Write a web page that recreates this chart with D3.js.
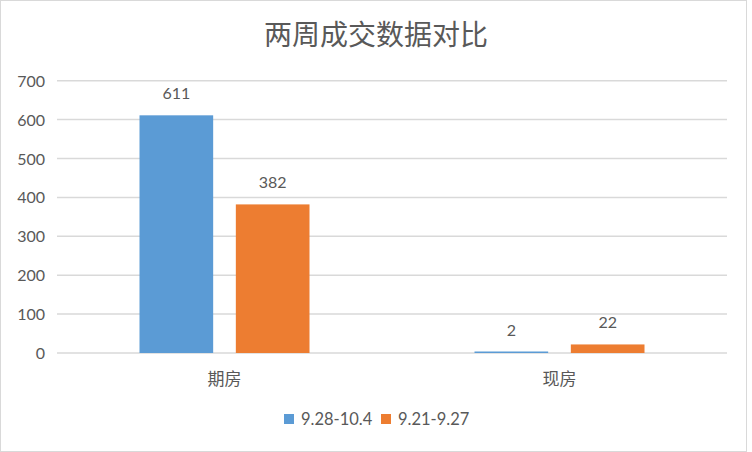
<!DOCTYPE html>
<html>
<head>
<meta charset="utf-8">
<script src="https://cdn.jsdelivr.net/npm/d3@7"></script>
<style>
  body { margin: 0; background: #fff; }
  text { font-family: "Lato", "Noto Sans CJK SC", sans-serif; fill: #595959; }
</style>
</head>
<body>
<script>
var categories = ["期房", "现房"];
var seriesNames = ["9.28-10.4", "9.21-9.27"];
var seriesColors = ["#5B9BD5", "#ED7D31"];
var recent = [611, 2];
var previous = [382, 22];
var yTicks = [0, 100, 200, 300, 400, 500, 600, 700];

var w = 752, h = 452;
var plotLeft = 57, plotRight = 727, plotTop = 80.7, plotBottom = 353;

var svg = d3.select("body").append("svg")
  .attr("width", w)
  .attr("height", h);

// chart border
svg.append("rect")
  .attr("x", 0.5).attr("y", 0.5)
  .attr("width", w - 6).attr("height", h - 1)
  .attr("fill", "#fff")
  .attr("stroke", "#d9d9d9");

svg.append("text")
  .attr("x", 376).attr("y", 45)
  .attr("text-anchor", "middle")
  .style("font-size", "28px")
  .text("两周成交数据对比");

var xScale = d3.scaleBand()
  .domain(categories)
  .range([plotLeft, plotRight]);

var xInner = d3.scaleBand()
  .domain(d3.range(seriesNames.length))
  .range([0, 170])
  .paddingInner(20 / 85);

var yScale = d3.scaleLinear()
  .domain([0, 700])
  .range([plotBottom, plotTop]);

// gridlines
svg.append("g")
  .selectAll("line")
  .data(yTicks)
  .enter().append("line")
  .attr("x1", plotLeft).attr("x2", plotRight)
  .attr("y1", function(d) { return yScale(d); })
  .attr("y2", function(d) { return yScale(d); })
  .attr("stroke", "#d9d9d9")
  .attr("stroke-width", 1.5);

// y labels
svg.append("g")
  .selectAll("text")
  .data(yTicks)
  .enter().append("text")
  .attr("x", 45)
  .attr("y", function(d) { return yScale(d) + 6; })
  .attr("text-anchor", "end")
  .style("font-size", "16px")
  .text(function(d) { return d; });

var rows = [];
categories.forEach(function(c, i) {
  rows.push({cat: c, s: 0, v: recent[i]});
  rows.push({cat: c, s: 1, v: previous[i]});
});

function barX(d) {
  return xScale(d.cat) + xScale.bandwidth() / 2 - 85 + xInner(d.s);
}
function barTop(d) {
  return Math.min(yScale(d.v), plotBottom - 1.5);
}

svg.append("g")
  .selectAll("rect")
  .data(rows)
  .enter().append("rect")
  .attr("x", barX)
  .attr("width", xInner.bandwidth())
  .attr("y", barTop)
  .attr("height", function(d) { return plotBottom - barTop(d); })
  .attr("fill", function(d) { return seriesColors[d.s]; });

svg.append("g")
  .selectAll("text")
  .data(rows)
  .enter().append("text")
  .attr("x", function(d) { return barX(d) + xInner.bandwidth() / 2; })
  .attr("y", function(d) { return barTop(d) - 16; })
  .attr("text-anchor", "middle")
  .style("font-size", "16px")
  .text(function(d) { return d.v; });

// category labels
svg.append("g")
  .selectAll("text")
  .data(categories)
  .enter().append("text")
  .attr("x", function(d) { return xScale(d) + xScale.bandwidth() / 2; })
  .attr("y", 385)
  .attr("text-anchor", "middle")
  .style("font-size", "17px")
  .text(function(d) { return d; });

// legend
var legendX = [284, 381];
var lg = svg.append("g")
  .selectAll("g")
  .data(seriesNames)
  .enter().append("g")
  .attr("transform", function(d, i) { return "translate(" + legendX[i] + ",0)"; });

lg.append("rect")
  .attr("x", 0).attr("y", 414)
  .attr("width", 10).attr("height", 10)
  .attr("fill", function(d, i) { return seriesColors[i]; });

lg.append("text")
  .attr("x", 17).attr("y", 425)
  .style("font-size", "16.5px")
  .text(function(d) { return d; });
</script>
</body>
</html>
